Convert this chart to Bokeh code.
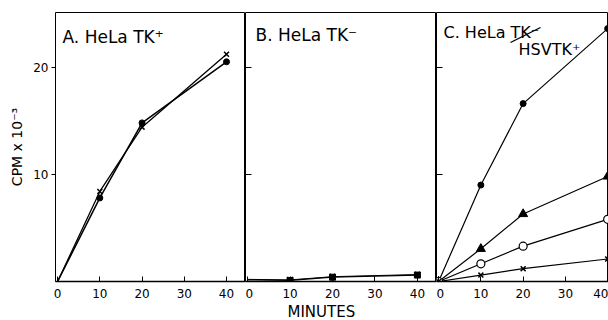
from bokeh.plotting import figure
from bokeh.layouts import row
from bokeh.models import Label, Arrow, FixedTicker, Range1d, Title
from bokeh.embed import file_html
from bokeh.resources import INLINE

# ---- data ----
minutes = [0, 10, 20, 40]
a_dots = [0, 7.8, 14.8, 20.5]
a_cross = [0, 8.4, 14.4, 21.2]
b_dots = [0.15, 0.1, 0.4, 0.6]
b_cross = [0.2, 0.15, 0.45, 0.65]
c_dots = [0, 9.0, 16.6, 23.6]
c_tri = [0, 3.05, 6.3, 9.8]
c_open = [0, 1.65, 3.3, 5.8]
c_cross = [0, 0.6, 1.2, 2.1]
x_ticks = [0, 10, 20, 30, 40]
y_ticks = [10, 20]

FONT = "DejaVu Sans"


def make_panel(width, x_end, left_border, labelled_y):
    p = figure(width=width, height=320,
               x_range=Range1d(-0.5, x_end), y_range=Range1d(0, 25.1),
               output_backend="svg", toolbar_location=None,
               min_border_left=left_border, min_border_right=0,
               min_border_top=12, min_border_bottom=39)
    p.grid.visible = False
    p.outline_line_color = "black"
    p.outline_line_width = 1
    p.background_fill_color = "white"
    p.border_fill_color = "white"

    xa = p.xaxis[0]
    xa.ticker = FixedTicker(ticks=x_ticks)
    xa.major_tick_in = 5
    xa.major_tick_out = 0
    xa.minor_tick_line_color = None
    xa.axis_line_width = 1.6
    xa.major_tick_line_width = 1
    xa.major_label_standoff = 7
    xa.major_label_text_font = FONT
    xa.major_label_text_font_size = "12px"
    xa.major_label_text_color = "black"

    ya = p.yaxis[0]
    ya.ticker = FixedTicker(ticks=y_ticks)
    ya.axis_line_color = None
    ya.minor_tick_line_color = None
    if labelled_y:
        ya.major_tick_in = 0
        ya.major_tick_out = 4
        ya.major_label_standoff = 3
        ya.major_label_text_font = FONT
        ya.major_label_text_font_size = "12px"
        ya.major_label_text_color = "black"
        ya.axis_label = "CPM x 10\u207b\u00b3"
        ya.axis_label_text_font = FONT
        ya.axis_label_text_font_size = "14px"
        ya.axis_label_text_font_style = "normal"
        ya.axis_label_standoff = 5
        ya.axis_label_text_color = "black"
    else:
        ya.major_tick_in = 6
        ya.major_tick_out = 0
        ya.major_label_standoff = 0
        ya.major_label_overrides = {t: "" for t in y_ticks}
    return p


def title(p, txt, x, y, size="16px"):
    p.add_layout(Label(x=x, y=y, x_units="screen", y_units="screen", text=txt,
                       text_font=FONT, text_font_size=size, text_color="black",
                       text_baseline="alphabetic", text_align="left"))


# ---- Panel A ----
pa = make_panel(245, 44.5, 55, True)
pa.line(minutes, a_dots, line_color="black", line_width=1.5)
pa.line(minutes, a_cross, line_color="black", line_width=1.3)
pa.scatter(minutes[1:], a_dots[1:], marker="circle", size=6, color="black")
pa.scatter(minutes[1:], a_cross[1:], marker="x", size=7, line_color="black", line_width=1.5)
title(pa, "A. HeLa TK\u207a", 7, 245, "17px")

# ---- Panel B ----
pb = make_panel(191, 44.5, 0, False)
pb.line(minutes, b_dots, line_color="black", line_width=1.2)
pb.line(minutes, b_cross, line_color="black", line_width=1.0)
pb.scatter(minutes[1:], b_dots[1:], marker="square", size=6, color="black")
pb.scatter(minutes[1:], b_cross[1:], marker="x", size=8, line_color="black", line_width=1.5)
title(pb, "B. HeLa TK\u207b", 10, 247, "17px")
pb.add_layout(Title(text="MINUTES", align="left", offset=42, standoff=0,
                    text_font=FONT, text_font_size="15px", text_font_style="normal",
                    text_color="black"), "below")

# ---- Panel C ----
pc = make_panel(172, 40.2, 0, False)
pc.line(minutes, c_dots, line_color="black", line_width=1.2)
pc.line(minutes, c_tri, line_color="black", line_width=1.2)
pc.line(minutes, c_open, line_color="black", line_width=1.2)
pc.line(minutes, c_cross, line_color="black", line_width=1.2)
pc.scatter(minutes, c_dots, marker="circle", size=6, color="black")
pc.scatter(minutes, c_tri, marker="triangle", size=9, color="black")
pc.scatter(minutes, c_open, marker="circle", size=8, fill_color="white",
           line_color="black", line_width=1.2)
pc.scatter(minutes, c_cross, marker="x", size=7, line_color="black", line_width=1.5)
title(pc, "C. HeLa TK\u207b", 7, 249)
title(pc, "HSVTK\u207a", 82, 232)
pc.add_layout(Arrow(end=None, x_start=74, y_start=239, x_end=104, y_end=254,
                    start_units="screen", end_units="screen",
                    line_color="black", line_width=1.3))

layout = row(pa, pb, pc, spacing=0)

open("out.html", "w").write(file_html(layout, INLINE))
